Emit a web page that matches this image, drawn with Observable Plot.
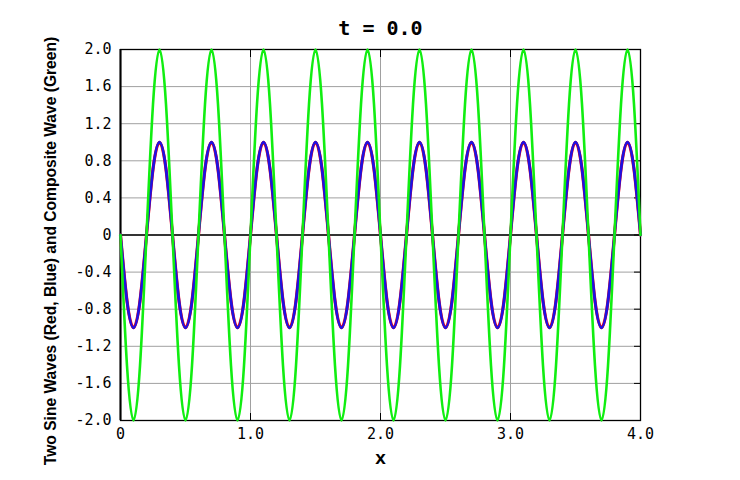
<!DOCTYPE html>
<html>
<head>
<meta charset="utf-8">
<script src="https://cdn.jsdelivr.net/npm/d3@7"></script>
<script src="https://cdn.jsdelivr.net/npm/@observablehq/plot@0.6"></script>
<style>
  html, body { margin: 0; padding: 0; background: #fff; }
  #chart { width: 740px; height: 480px; }
</style>
</head>
<body>
<div id="chart"></div>
<script>
const title = "t = 0.0";
const yLabel = "Two Sine Waves (Red, Blue) and Composite Wave (Green)";
const xLabel = "x";

const xValues = [
  0.00, 0.05, 0.10, 0.15, 0.20, 0.25, 0.30, 0.35, 0.40, 0.45,
  0.50, 0.55, 0.60, 0.65, 0.70, 0.75, 0.80, 0.85, 0.90, 0.95,
  1.00, 1.05, 1.10, 1.15, 1.20, 1.25, 1.30, 1.35, 1.40, 1.45,
  1.50, 1.55, 1.60, 1.65, 1.70, 1.75, 1.80, 1.85, 1.90, 1.95,
  2.00, 2.05, 2.10, 2.15, 2.20, 2.25, 2.30, 2.35, 2.40, 2.45,
  2.50, 2.55, 2.60, 2.65, 2.70, 2.75, 2.80, 2.85, 2.90, 2.95,
  3.00, 3.05, 3.10, 3.15, 3.20, 3.25, 3.30, 3.35, 3.40, 3.45,
  3.50, 3.55, 3.60, 3.65, 3.70, 3.75, 3.80, 3.85, 3.90, 3.95,
  4.00
];
const redValues = [
  0, -0.71, -1, -0.71, 0, 0.71, 1, 0.71,
  0, -0.71, -1, -0.71, 0, 0.71, 1, 0.71,
  0, -0.71, -1, -0.71, 0, 0.71, 1, 0.71,
  0, -0.71, -1, -0.71, 0, 0.71, 1, 0.71,
  0, -0.71, -1, -0.71, 0, 0.71, 1, 0.71,
  0, -0.71, -1, -0.71, 0, 0.71, 1, 0.71,
  0, -0.71, -1, -0.71, 0, 0.71, 1, 0.71,
  0, -0.71, -1, -0.71, 0, 0.71, 1, 0.71,
  0, -0.71, -1, -0.71, 0, 0.71, 1, 0.71,
  0, -0.71, -1, -0.71, 0, 0.71, 1, 0.71,
  0
];
const blueValues = [
  0, -0.71, -1, -0.71, 0, 0.71, 1, 0.71,
  0, -0.71, -1, -0.71, 0, 0.71, 1, 0.71,
  0, -0.71, -1, -0.71, 0, 0.71, 1, 0.71,
  0, -0.71, -1, -0.71, 0, 0.71, 1, 0.71,
  0, -0.71, -1, -0.71, 0, 0.71, 1, 0.71,
  0, -0.71, -1, -0.71, 0, 0.71, 1, 0.71,
  0, -0.71, -1, -0.71, 0, 0.71, 1, 0.71,
  0, -0.71, -1, -0.71, 0, 0.71, 1, 0.71,
  0, -0.71, -1, -0.71, 0, 0.71, 1, 0.71,
  0, -0.71, -1, -0.71, 0, 0.71, 1, 0.71,
  0
];
const greenValues = [
  0, -1.41, -2, -1.41, 0, 1.41, 2, 1.41,
  0, -1.41, -2, -1.41, 0, 1.41, 2, 1.41,
  0, -1.41, -2, -1.41, 0, 1.41, 2, 1.41,
  0, -1.41, -2, -1.41, 0, 1.41, 2, 1.41,
  0, -1.41, -2, -1.41, 0, 1.41, 2, 1.41,
  0, -1.41, -2, -1.41, 0, 1.41, 2, 1.41,
  0, -1.41, -2, -1.41, 0, 1.41, 2, 1.41,
  0, -1.41, -2, -1.41, 0, 1.41, 2, 1.41,
  0, -1.41, -2, -1.41, 0, 1.41, 2, 1.41,
  0, -1.41, -2, -1.41, 0, 1.41, 2, 1.41,
  0
];

const xTicks = [0, 1, 2, 3, 4];
const xTickLabels = ["0", "1.0", "2.0", "3.0", "4.0"];
const yTicks = [-2.0, -1.6, -1.2, -0.8, -0.4, 0, 0.4, 0.8, 1.2, 1.6, 2.0];
const yTickLabels = ["-2.0", "-1.6", "-1.2", "-0.8", "-0.4", "0", "0.4", "0.8", "1.2", "1.6", "2.0"];

const pts = (ys) => xValues.map((x, i) => ({x, y: ys[i]}));
const red = pts(redValues), blue = pts(blueValues), green = pts(greenValues);

const mono = "'DejaVu Sans Mono', 'Liberation Mono', monospace";
const sans = "'Liberation Sans', Arial, sans-serif";

const chart = Plot.plot({
  width: 740,
  height: 480,
  marginLeft: 120,
  marginRight: 100,
  marginTop: 49,
  marginBottom: 60,
  style: {background: "#fff", fontFamily: mono, fontSize: "15px", color: "#000"},
  x: {domain: [0, 4]},
  y: {domain: [-2, 2]},
  marks: [
    Plot.gridX(xTicks, {stroke: "#a0a0a0", strokeOpacity: 1, strokeWidth: 1}),
    Plot.gridY(yTicks, {stroke: "#a0a0a0", strokeOpacity: 1, strokeWidth: 1}),
    Plot.ruleY([0], {stroke: "#000", strokeWidth: 1.4}),
    // inward tick marks
    Plot.axisY(yTicks, {anchor: "right", tickSize: 7, insetRight: 7, text: null, label: null, stroke: "#000"}),
    Plot.axisX(xTicks, {anchor: "bottom", tickSize: 7, insetBottom: 7, text: null, label: null, stroke: "#000"}),
    Plot.axisX(xTicks, {anchor: "top", tickSize: 7, insetTop: 7, text: null, label: null, stroke: "#000"}),
    // tick labels
    Plot.axisY(yTicks, {anchor: "left", tickSize: 0, tickPadding: 9, tickFormat: (d, i) => yTickLabels[i], label: null, fontSize: 15, fill: "#000"}),
    Plot.axisX(xTicks, {anchor: "bottom", tickSize: 0, tickPadding: 8, tickFormat: (d, i) => xTickLabels[i], label: null, fontSize: 15, fill: "#000"}),
    Plot.frame({stroke: "#000", strokeWidth: 1.3}),
    Plot.ruleX([0], {stroke: "#000", strokeWidth: 2}),
    // series
    Plot.line(red, {x: "x", y: "y", stroke: "#ff0000", strokeWidth: 3.2, curve: "natural"}),
    Plot.line(blue, {x: "x", y: "y", stroke: "#2010e0", strokeWidth: 2.8, curve: "natural"}),
    Plot.line(green, {x: "x", y: "y", stroke: "#11ee11", strokeWidth: 2.6, curve: "natural"}),
    // title and labels
    Plot.text([title], {frameAnchor: "top", lineAnchor: "middle", dy: -21, text: d => d, fontFamily: mono, fontWeight: "bold", fontSize: 20, fill: "#000"}),
    Plot.text([xLabel], {frameAnchor: "bottom", lineAnchor: "middle", dy: 37, text: d => d, fontFamily: sans, fontWeight: "bold", fontSize: 19, fill: "#000"}),
    Plot.text([yLabel], {frameAnchor: "left", textAnchor: "middle", lineAnchor: "middle", dx: -70, dy: 16, rotate: -90, text: d => d, fontFamily: sans, fontWeight: "bold", fontSize: 15.6, fill: "#000"})
  ]
});
document.getElementById("chart").appendChild(chart);
</script>
</body>
</html>
